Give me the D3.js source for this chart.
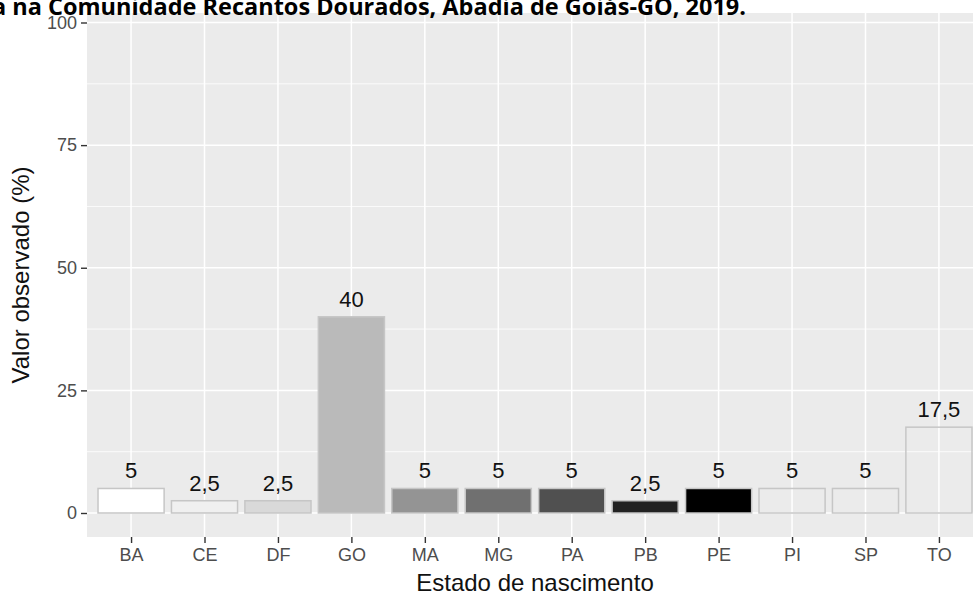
<!DOCTYPE html>
<html>
<head>
<meta charset="utf-8">
<script src="https://cdn.jsdelivr.net/npm/d3@7"></script>
<style>
  body { margin: 0; background: #fff; }
  svg { display: block; }
</style>
</head>
<body>
<div id="chart"></div>
<script>
// data
var estados = ["BA", "CE", "DF", "GO", "MA", "MG", "PA", "PB", "PE", "PI", "SP", "TO"];
var valores = [5, 2.5, 2.5, 40, 5, 5, 5, 2.5, 5, 5, 5, 17.5];
var rotulos = ["5", "2,5", "2,5", "40", "5", "5", "5", "2,5", "5", "5", "5", "17,5"];
var preenchimento = ["#ffffff", "#f0f0f0", "#d9d9d9", "#bababa", "#949494", "#707070",
                     "#505050", "#222222", "#000000", "none", "none", "none"];
var yTicks = [0, 25, 50, 75, 100];
var yMinor = [12.5, 37.5, 62.5, 87.5];

var width = 973, height = 597;
var fonte = "Liberation Sans, Arial, sans-serif";

var svg = d3.select("#chart")
    .append("svg")
    .attr("width", width)
    .attr("height", height);

// panel (right side is cut off in the original picture)
var panel = { left: 87, top: 13, right: 983, bottom: 537 };

var step = (panel.right - panel.left) / (estados.length - 1 + 1.2);
var x = d3.scalePoint()
    .domain(estados)
    .range([panel.left + 0.6 * step, panel.right - 0.6 * step]);

var y = d3.scaleLinear()
    .domain([0, 100])
    .range([513, 22.5]);

svg.append("rect")
    .attr("x", panel.left)
    .attr("y", panel.top)
    .attr("width", panel.right - panel.left)
    .attr("height", panel.bottom - panel.top)
    .attr("fill", "#ebebeb");

var grid = svg.append("g");

grid.selectAll("line.minor")
    .data(yMinor)
    .enter().append("line")
    .attr("class", "minor")
    .attr("x1", panel.left).attr("x2", panel.right)
    .attr("y1", function(d) { return y(d); })
    .attr("y2", function(d) { return y(d); })
    .attr("stroke", "#fff")
    .attr("stroke-width", 0.8);

grid.selectAll("line.majory")
    .data(yTicks)
    .enter().append("line")
    .attr("class", "majory")
    .attr("x1", panel.left).attr("x2", panel.right)
    .attr("y1", function(d) { return y(d); })
    .attr("y2", function(d) { return y(d); })
    .attr("stroke", "#fff")
    .attr("stroke-width", 1.5);

grid.selectAll("line.majorx")
    .data(estados)
    .enter().append("line")
    .attr("class", "majorx")
    .attr("y1", panel.top).attr("y2", panel.bottom)
    .attr("x1", function(d) { return x(d); })
    .attr("x2", function(d) { return x(d); })
    .attr("stroke", "#fff")
    .attr("stroke-width", 1.5);

// bars
var barW = step * 0.9;
svg.append("g")
  .selectAll("rect")
    .data(estados)
    .enter().append("rect")
    .attr("x", function(d) { return x(d) - barW / 2; })
    .attr("width", barW)
    .attr("y", function(d, i) { return y(valores[i]); })
    .attr("height", function(d, i) { return y(0) - y(valores[i]); })
    .attr("fill", function(d, i) { return preenchimento[i]; })
    .attr("stroke", "#c6c6c6")
    .attr("stroke-width", 1.5);

// value labels
svg.append("g")
  .selectAll("text")
    .data(estados)
    .enter().append("text")
    .attr("x", function(d) { return x(d); })
    .attr("y", function(d, i) { return y(valores[i]) - 10; })
    .attr("text-anchor", "middle")
    .attr("font-family", fonte)
    .attr("font-size", "22px")
    .attr("fill", "#111")
    .text(function(d, i) { return rotulos[i]; });

// axes
var yAxis = svg.append("g")
    .attr("transform", "translate(" + panel.left + ",0)")
    .call(d3.axisLeft(y).tickValues(yTicks).tickSize(6).tickPadding(4));
var xAxis = svg.append("g")
    .attr("transform", "translate(0," + panel.bottom + ")")
    .call(d3.axisBottom(x).tickSize(6).tickPadding(5));

[yAxis, xAxis].forEach(function(a) {
  a.select(".domain").remove();
  a.selectAll(".tick line").attr("stroke", "#333").attr("stroke-width", 1.4);
  a.selectAll(".tick text")
    .attr("fill", "#4d4d4d")
    .attr("font-family", fonte)
    .attr("font-size", "18px");
});

// axis titles
svg.append("text")
    .attr("x", (panel.left + panel.right) / 2)
    .attr("y", 591)
    .attr("text-anchor", "middle")
    .attr("font-family", fonte)
    .attr("font-size", "24px")
    .attr("fill", "#111")
    .text("Estado de nascimento");

svg.append("text")
    .attr("transform", "translate(29," + ((panel.top + panel.bottom) / 2) + ") rotate(-90)")
    .attr("text-anchor", "middle")
    .attr("font-family", fonte)
    .attr("font-size", "24px")
    .attr("fill", "#111")
    .text("Valor observado (%)");

// title, clipped at the top and left in the original
svg.append("text")
    .attr("x", 746)
    .attr("y", 15)
    .attr("text-anchor", "end")
    .attr("font-family", "Open Sans, sans-serif")
    .attr("font-weight", "bold")
    .attr("font-size", "23.5px")
    .attr("fill", "#000")
    .text("a na Comunidade Recantos Dourados, Abadia de Goiás-GO, 2019.");
</script>
</body>
</html>
